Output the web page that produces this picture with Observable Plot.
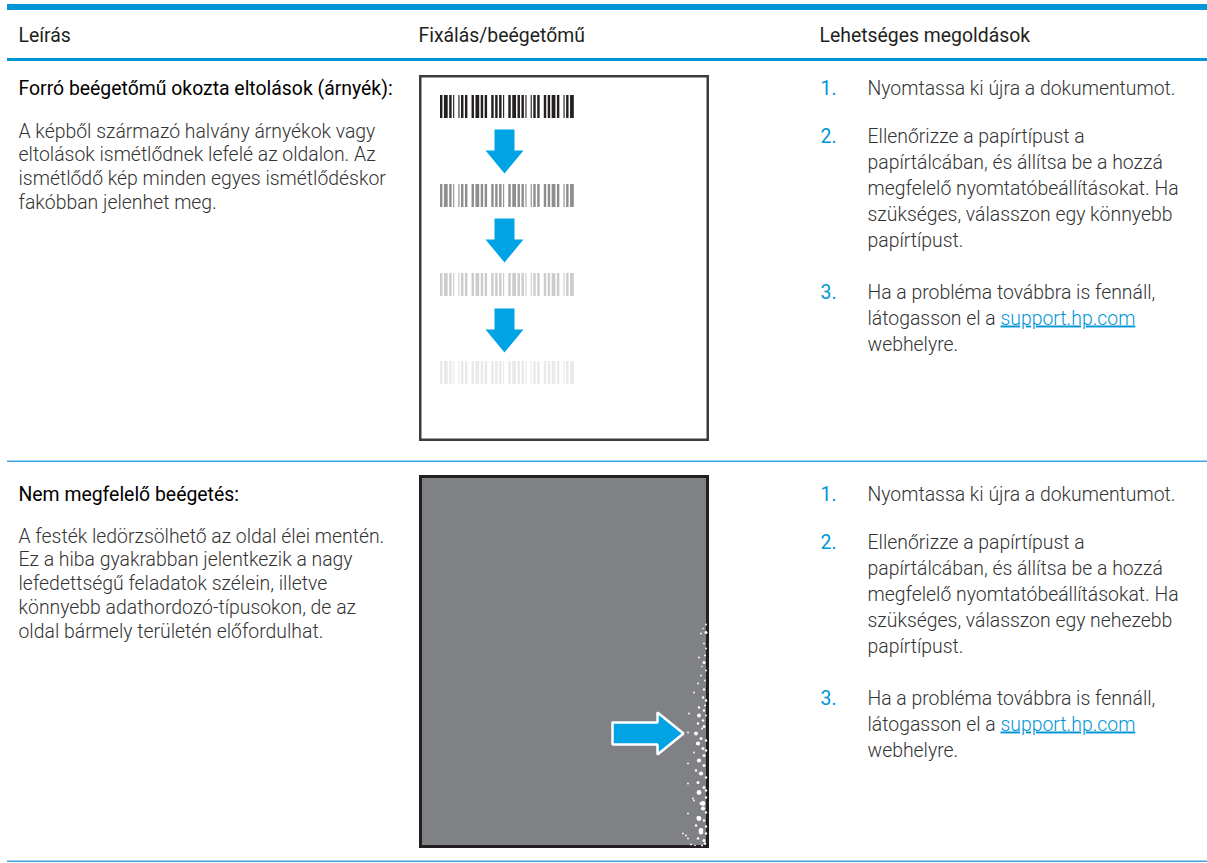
<!DOCTYPE html>
<html><head><meta charset="utf-8">
<script src="https://cdn.jsdelivr.net/npm/d3@7"></script>
<script src="https://cdn.jsdelivr.net/npm/@observablehq/plot@0.6"></script>
<style>
html,body{margin:0;padding:0;background:#fff;}
#chart svg{display:block;}
</style></head><body><div id="chart"></div>
<script>
// ---------- content ----------
const headers = ["Leírás", "Fixálás/beégetőmű", "Lehetséges megoldások"];
const rowTitles = ["Forró beégetőmű okozta eltolások (árnyék):", "Nem megfelelő beégetés:"];
const rowDescriptions = [
  ["A képből származó halvány árnyékok vagy",
   "eltolások ismétlődnek lefelé az oldalon. Az",
   "ismétlődő kép minden egyes ismétlődéskor",
   "fakóbban jelenhet meg."],
  ["A festék ledörzsölhető az oldal élei mentén.",
   "Ez a hiba gyakrabban jelentkezik a nagy",
   "lefedettségű feladatok szélein, illetve",
   "könnyebb adathordozó-típusokon, de az",
   "oldal bármely területén előfordulhat."]
];
const solutions = [
  [["Nyomtassa ki újra a dokumentumot."],
   ["Ellenőrizze a papírtípust a", "papírtálcában, és állítsa be a hozzá", "megfelelő nyomtatóbeállításokat. Ha", "szükséges, válasszon egy könnyebb", "papírtípust."],
   ["Ha a probléma továbbra is fennáll,", "látogasson el a support.hp.com", "webhelyre."]],
  [["Nyomtassa ki újra a dokumentumot."],
   ["Ellenőrizze a papírtípust a", "papírtálcában, és állítsa be a hozzá", "megfelelő nyomtatóbeállításokat. Ha", "szükséges, válasszon egy nehezebb", "papírtípust."],
   ["Ha a probléma továbbra is fennáll,", "látogasson el a support.hp.com", "webhelyre."]]
];
const linkText = "support.hp.com";
// barcode modules (1 = bar) and the fading shades of the repeated image
const barcodeModules = ["11011101101","1011011","110111011011","1101101101",
  "11011101101101","1011011","110110111011","10110111"].join("000");
const barcodeShades = ["#231f20", "#8e8e8e", "#cccccc", "#e9e9e9"];
// white toner specks along the right edge of the grey page: [distance from edge, y, radius]
const specks = [[1,624,0.9],[6,633,0.9],[1,632,1.5],[3,643,0.9],[8,657,0.9],[3,662,1.5],[1,670,0.9],[6,675,0.9],
  [9,683,0.9],[3,689,1.2],[13,692,0.9],[4,697,1.2],[1,700,1.2],[8,707,1.2],[3,710,1.2],[18,713,0.9],[8,715,1.9],[4,720,1.2],
  [9,723,1.2],[3,726,1.5],[19,732,0.9],[11,733,1.9],[6,738,1.5],[1,740,1.2],[9,743,2.1],[4,748,1.5],[13,752,0.9],
  [3,755,1.5],[8,760,2.1],[19,763,0.9],[3,765,1.5],[11,770,1.2],[6,773,2.1],[1,777,1.2],[9,782,1.5],[19,783,0.9],
  [3,787,1.5],[8,792,2.4],[1,797,1.2],[13,800,0.9],[6,803,1.5],[4,808,2.1],[19,813,0.9],[9,817,1.5],[3,820,1.2],
  [11,825,1.2],[6,830,2.4],[1,833,1.2],[21,835,0.9],[9,838,1.2],[3,840,1.5],[14,798,0.9],[4,803,2.4],[8,818,2.4],[6,832,2.1],
  [24,833,0.9],[19,838,0.9],[2,843,1.2],[5,845,0.9],[1,648,0.9],[2,680,0.9],[1,715,0.9],[1,750,1.2],[1,790,1.2],
  [1,812,1.2],[1,826,1.2],[12,845,0.8],[16,844,0.9],[4,628,0.8],[2,655,1],[5,666,0.8],[2,705,1],[5,728,1]];

// ---------- layout ----------
const W = 1207, H = 863;
const BLUE = "#0096d6", ARROW = "#00a4e4", INK = "#231f20";
const colX = [18, 418, 819], numX = 820, itemX = 867;
const FS = 19.4, FONT = "Roboto, 'Open Sans', sans-serif";
const rowTitleY = [94, 500];
const descY = [137, 542], descLH = 23.8;
const solY = [[94, 142, 298], [500, 548, 704]], solLH = 26;
const box = {x1: 419, x2: 709};
const boxY = [[75, 441], [475, 848]];

const rules = [
  {x1: 7, x2: W, y1: 4, y2: 10, fill: BLUE},
  {x1: 7, x2: W, y1: 58, y2: 61, fill: BLUE},
  {x1: 7, x2: W, y1: 460.5, y2: 462, fill: "#3aa6dc"},
  {x1: 7, x2: W, y1: 860.5, y2: 862, fill: "#3aa6dc"}
];

const texts = [];
headers.forEach((h, i) => texts.push({x: colX[i], y: 41, text: h, kind: "head"}));
rowTitles.forEach((t, r) => texts.push({x: colX[0], y: rowTitleY[r], text: t, kind: "title"}));
rowDescriptions.forEach((lines, r) => lines.forEach((t, i) => texts.push({x: colX[0], y: descY[r] + i * descLH, text: t, kind: "body"})));
solutions.forEach((items, r) => items.forEach((lines, k) => {
  texts.push({x: numX, y: solY[r][k], text: `${k + 1}.`, kind: "num"});
  lines.forEach((t, i) => texts.push({x: itemX, y: solY[r][k] + i * solLH, text: t, kind: "body"}));
}));

// barcode bars
const bcX = 440, bcW = 134, mw = bcW / barcodeModules.length;
const bcTop = [95, 184, 273, 361], bcH = 23;
const bars = [];
barcodeShades.forEach((shade, c) => {
  let i = 0;
  while (i < barcodeModules.length) {
    if (barcodeModules[i] === "1") {
      let j = i; while (j < barcodeModules.length && barcodeModules[j] === "1") j++;
      bars.push({x1: bcX + i * mw, x2: bcX + j * mw - 0.2, y1: bcTop[c], y2: bcTop[c] + bcH, fill: shade});
      i = j;
    } else i++;
  }
});

// arrows (shape relative to anchor)
const downShape = [[-10,0],[10,0],[10,21],[19,21],[0,44],[-19,21],[-10,21]];
const downArrows = [129, 218, 308].map((y, k) => downShape.map(([dx, dy]) => ({id: k, x: 504 + dx, y: y + dy})));
const rightShape = [[0,-11],[45,-11],[45,-21],[71,0],[45,21],[45,11],[0,11],[0,-11]];
const rightArrow = rightShape.map(([dx, dy]) => ({x: 612 + dx, y: 733 + dy}));

const edgeX = 706.5;
const sizeGroups = d3.groups(specks, d => d[2]);

const plot = Plot.plot({
  width: W, height: H, margin: 0,
  x: {type: "identity", axis: null},
  y: {type: "identity", axis: null},
  style: {fontFamily: FONT, background: "#fff", overflow: "visible"},
  marks: [
    Plot.rect(rules, {x1: "x1", x2: "x2", y1: "y1", y2: "y2", fill: "fill"}),
    // page 1: white page with repeated fading barcode
    Plot.rect([0], {x1: box.x1 + 1.25, x2: box.x2 - 1.25, y1: boxY[0][0] + 1.25, y2: boxY[0][1] - 1.25, fill: "#fff", stroke: "#3b3b3b", strokeWidth: 2.5}),
    Plot.rect(bars, {x1: "x1", x2: "x2", y1: "y1", y2: "y2", fill: "fill"}),
    Plot.line(downArrows.flat(), {x: "x", y: "y", z: "id", fill: ARROW, stroke: "none"}),
    // page 2: grey page with specks at right edge
    Plot.rect([0], {x1: box.x1 + 1.5, x2: box.x2 - 1.5, y1: boxY[1][0] + 1.5, y2: boxY[1][1] - 1.5, fill: "#808185", stroke: INK, strokeWidth: 3}),
    ...sizeGroups.map(([r, pts]) => Plot.dot(pts, {x: d => edgeX - d[0], y: d => d[1], r, fill: "#fff", stroke: "none"})),
    Plot.line(rightArrow, {x: "x", y: "y", fill: ARROW, stroke: "#fff", strokeWidth: 2.5, strokeLinejoin: "miter"}),
    // texts
    Plot.text(texts.filter(d => d.kind === "head"), {x: "x", y: "y", text: "text", textAnchor: "start", lineAnchor: "bottom", fontSize: FS, fill: INK}),
    Plot.text(texts.filter(d => d.kind === "title"), {x: "x", y: "y", text: "text", textAnchor: "start", lineAnchor: "bottom", fontSize: FS, fill: "#000"}),
    Plot.text(texts.filter(d => d.kind === "body"), {x: "x", y: "y", text: "text", textAnchor: "start", lineAnchor: "bottom", fontSize: FS, fill: "#333", fontWeight: 300}),
    Plot.text(texts.filter(d => d.kind === "num"), {x: "x", y: "y", text: "text", textAnchor: "start", lineAnchor: "bottom", fontSize: FS, fill: BLUE})
  ]
});

// style the web link inside its line
d3.select(plot).selectAll("text").each(function() {
  const t = this.textContent;
  if (t.includes(linkText)) {
    const [before] = t.split(linkText);
    const sel = d3.select(this);
    sel.text(null);
    sel.append("tspan").text(before);
    sel.append("tspan").attr("fill", BLUE).style("text-decoration", "underline").text(linkText);
  }
});
document.getElementById("chart").append(plot);
</script></body></html>
